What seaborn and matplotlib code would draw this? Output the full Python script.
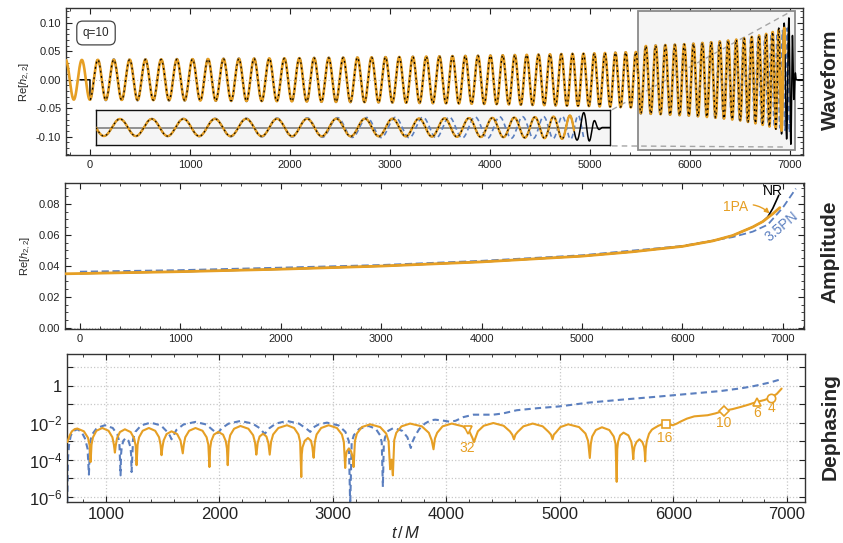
import numpy as np
import matplotlib
matplotlib.use('Agg')
import matplotlib.pyplot as plt
import seaborn as sns
from matplotlib.patches import Rectangle
from matplotlib.ticker import MultipleLocator, FixedLocator, FixedFormatter, NullLocator, FormatStrFormatter

sns.set_theme(style='ticks')
plt.rcParams['font.family'] = ['Liberation Sans', 'DejaVu Sans']
plt.rcParams['mathtext.fontset'] = 'custom'
plt.rcParams['mathtext.rm'] = 'Liberation Sans'
plt.rcParams['mathtext.it'] = 'Liberation Sans:italic'
plt.rcParams['mathtext.bf'] = 'Liberation Sans:bold'

ORANGE = '#E69F24'
BLUE = '#5B7FBF'

period_t = [-250, 0, 1000, 2000, 3000, 4000, 5000, 5500, 6000, 6400, 6700, 6850, 6950, 7000, 7030]
period_M = [162, 160, 156, 150, 138, 124, 108, 100, 92, 82, 72, 62, 50, 40, 30]

# amplitude of h22 (middle panel)
amp_t = [-250, 0, 1000, 2000, 3000, 4000, 5000, 5500, 6000, 6300, 6500, 6700, 6800, 6900, 6970]
amp_1pa = [0.0347, 0.0350, 0.0362, 0.0378, 0.0398, 0.0425, 0.0462, 0.0490, 0.0525, 0.0560, 0.0595, 0.0650,
           0.0685, 0.0735, 0.0775]
amp_nr_t = [6800, 6850, 6900, 6960, 7000, 7012, 7025, 7040, 7060]
amp_nr = [0.0685, 0.0715, 0.0770, 0.0855, 0.0925, 0.0950, 0.0650, 0.0280, 0.0030]
amp_pn_t = [0, 1000, 2000, 3000, 4000, 5000, 6000, 6500, 6700, 6850, 7000, 7130]
amp_pn = [0.0362, 0.0372, 0.0388, 0.0405, 0.0432, 0.0468, 0.0528, 0.0585, 0.0620, 0.0665, 0.0775, 0.0898]

# dephasing (bottom panel): time and log10|delta phi|
deph_1pa = [
    (660, -3.05), (680, -2.7), (700, -2.47), (725, -2.35), (748, -2.32), (806, -2.47), (842, -2.82),
    (856, -3.22), (865, -4.13),
    (873, -3.19), (886, -2.79), (916, -2.44), (968, -2.29), (1023, -2.44), (1057, -2.79), (1070, -3.19),
    (1079, -3.62),
    (1086, -3.26), (1097, -2.86), (1123, -2.51), (1167, -2.36), (1218, -2.51), (1249, -2.86), (1262, -3.26),
    (1270, -4.3),
    (1279, -3.19), (1292, -2.79), (1324, -2.44), (1378, -2.29), (1434, -2.44), (1468, -2.79), (1481, -3.19),
    (1490, -3.76),
    (1497, -3.37), (1508, -2.97), (1534, -2.62), (1578, -2.47), (1628, -2.62), (1657, -2.97), (1669, -3.37),
    (1677, -3.66),
    (1686, -3.19), (1699, -2.79), (1733, -2.44), (1789, -2.29), (1851, -2.44), (1887, -2.79), (1902, -3.19),
    (1912, -4.4),
    (1918, -3.4), (1928, -3.0), (1951, -2.65), (1990, -2.5), (2032, -2.65), (2056, -3.0), (2066, -3.4),
    (2073, -4.3),
    (2082, -3.08), (2095, -2.68), (2129, -2.33), (2185, -2.18), (2255, -2.33), (2297, -2.68), (2314, -3.08),
    (2325, -3.73),
    (2330, -3.5), (2337, -3.1), (2354, -2.75), (2384, -2.6), (2414, -2.75), (2431, -3.1), (2438, -3.5),
    (2443, -3.73),
    (2455, -3.04), (2473, -2.64), (2519, -2.29), (2595, -2.14), (2658, -2.29), (2696, -2.64), (2711, -3.04),
    (2721, -4.94),
    (2725, -3.73), (2732, -3.33), (2752, -2.98), (2780, -2.83), (2807, -2.98), (2819, -3.33), (2826, -3.73),
    (2830, -3.9),
    (2841, -3.04), (2856, -2.64), (2896, -2.29), (2962, -2.14), (3035, -2.29), (3079, -2.64), (3096, -3.04),
    (3108, -4.45),
    (3112, -3.9), (3122, -3.55), (3140, -3.4), (3160, -3.55), (3175, -3.9), (3182, -4.4),
    (3194, -2.99), (3211, -2.59), (3255, -2.24), (3328, -2.09), (3416, -2.24), (3469, -2.59), (3490, -2.99),
    (3504, -4.52), (3516, -4.0), (3528, -4.85),
    (3540, -2.95), (3558, -2.55), (3604, -2.2), (3680, -2.05), (3783, -2.2), (3845, -2.55), (3870, -2.95),
    (3886, -3.44),
    (3899, -2.85), (3918, -2.55), (3966, -2.2), (4047, -2.05), (4145, -2.2), (4204, -2.5), (4227, -2.8),
    (4243, -3.05),
    (4257, -2.8), (4277, -2.47), (4328, -2.17), (4413, -2.02), (4504, -2.17), (4559, -2.47), (4580, -2.65),
    (4595, -2.9),
    (4608, -2.65), (4628, -2.5), (4678, -2.2), (4760, -2.05), (4848, -2.2), (4900, -2.5), (4921, -2.65),
    (4935, -2.9),
    (4946, -2.65), (4963, -2.54), (5004, -2.24), (5073, -2.09), (5168, -2.24), (5225, -2.59), (5248, -2.99),
    (5263, -3.91),
    (5272, -3.15), (5284, -2.75), (5316, -2.4), (5370, -2.25), (5435, -2.4), (5474, -2.75), (5490, -3.15),
    (5500, -5.2),
    (5505, -3.44), (5512, -3.04), (5530, -2.69), (5560, -2.54), (5603, -2.69), (5629, -3.04), (5639, -3.44),
    (5646, -3.98),
    (5650, -3.6), (5657, -3.3), (5674, -3.05), (5700, -2.9), (5726, -3.05), (5741, -3.3), (5747, -3.6),
    (5751, -4.09),
    (5756, -3.4), (5765, -3.0), (5785, -2.6), (5810, -2.38), (5833, -2.29), (5870, -2.16), (5900, -2.1),
    (5936, -2.09), (5965, -2.1), (5994, -2.14), (6030, -2.05), (6067, -1.93), (6120, -1.78), (6184, -1.66),
    (6240, -1.63), (6301, -1.6), (6370, -1.5), (6447, -1.35), (6520, -1.27), (6594, -1.15), (6660, -1.03),
    (6734, -0.88), (6800, -0.78), (6857, -0.65), (6910, -0.45), (6953, -0.16),
]
deph_pn = [
    (660, -6.3), (665, -4.0), (675, -3.2), (690, -2.7), (715, -2.45), (748, -2.36), (785, -2.5), (815, -2.85),
    (838, -3.4), (850, -4.81),
    (861, -3.04), (878, -2.64), (920, -2.29), (991, -2.14), (1060, -2.29), (1101, -2.64), (1118, -3.04),
    (1129, -4.85),
    (1133, -3.73), (1139, -3.33), (1153, -2.98), (1175, -2.83), (1199, -2.98), (1216, -3.33), (1222, -3.73),
    (1226, -4.67),
    (1239, -2.9), (1259, -2.5), (1310, -2.15), (1393, -2.0), (1485, -2.15), (1540, -2.5), (1563, -2.7),
    (1578, -2.9),
    (1595, -2.7), (1620, -2.4), (1683, -2.1), (1789, -1.96), (1884, -2.1), (1941, -2.4), (1964, -2.5),
    (1979, -2.6),
    (1995, -2.5), (2020, -2.3), (2082, -2.05), (2185, -1.91), (2292, -2.05), (2355, -2.3), (2383, -2.5),
    (2399, -2.6),
    (2415, -2.5), (2440, -2.3), (2497, -2.05), (2595, -1.91), (2700, -2.05), (2760, -2.3), (2785, -2.42),
    (2800, -2.5),
    (2812, -2.4), (2830, -2.25), (2873, -2.1), (2947, -2.0), (3050, -2.15), (3110, -2.5), (3140, -3.0),
    (3152, -6.5),
    (3165, -3.08), (3184, -2.68), (3233, -2.33), (3314, -2.18), (3377, -2.33), (3415, -2.68), (3430, -3.08),
    (3440, -5.48),
    (3448, -3.19), (3459, -2.79), (3487, -2.44), (3534, -2.29), (3610, -2.44), (3656, -2.79), (3672, -3.1),
    (3686, -3.37),
    (3700, -3.05), (3725, -2.7), (3760, -2.35), (3810, -2.05), (3860, -1.88), (3900, -1.84), (3960, -1.88),
    (4030, -1.95), (4080, -1.9), (4150, -1.7), (4238, -1.57), (4413, -1.57), (4500, -1.5), (4619, -1.33),
    (4800, -1.22), (5000, -1.12), (5249, -0.92), (5541, -0.76), (5833, -0.61), (6126, -0.45), (6418, -0.29),
    (6600, -0.14), (6711, -0.02), (6850, 0.17), (6944, 0.34),
]
deph_1pa_t = [p[0] for p in deph_1pa]
deph_1pa_log = [p[1] for p in deph_1pa]
deph_pn_t = [p[0] for p in deph_pn]
deph_pn_log = [p[1] for p in deph_pn]

# cycles-before-merger markers
marker_t = [4188, 5936, 6447, 6734, 6857]
marker_labels = ['32', '16', '10', '6', '4']
marker_shapes = ['v', 's', 'D', '^', 'o']

# overview inset: frequency (cycles per unit width), 3.5PN lag (cycles), NR envelope
inset_u = [0, 0.3, 0.5, 0.65, 0.75, 0.84, 0.9, 0.94, 0.96, 0.98]
inset_freq = [16, 16.5, 18, 20, 22, 25, 30, 38, 45, 55]
inset_lag_u = [0, 0.4, 0.55, 0.7, 0.8, 0.9, 0.97]
inset_lag = [0, 0.0, 0.08, 0.2, 0.35, 0.5, 0.65]
inset_amp_u = [0, 0.6, 0.8, 0.9, 0.94, 0.955, 0.965, 0.975, 0.985]
inset_amp = [0.48, 0.5, 0.55, 0.62, 0.72, 0.92, 0.6, 0.2, 0.0]


def line(ax, x, y, **kw):
    sns.lineplot(x=x, y=y, ax=ax, estimator=None, sort=False, legend=False, **kw)


def style_axes(ax, size):
    for s in ax.spines.values():
        s.set_color('#333333')
        s.set_linewidth(1.0)
    ax.tick_params(which='both', direction='in', top=True, right=True, labelsize=size, colors='#222222')
    ax.tick_params(which='major', length=4, width=0.8)
    ax.tick_params(which='minor', length=2, width=0.6)


fig = plt.figure(figsize=(8.43, 5.43), dpi=100)
W, H = 843, 543


def px_axes(l, t, r, b):
    return fig.add_axes([l / W, 1 - b / H, (r - l) / W, (b - t) / H])


ax1 = px_axes(66, 8, 803, 155)
ax2 = px_axes(65, 183, 804, 329)
ax3 = px_axes(67, 354, 805, 502)

# ---------------- waveform ----------------
dt = 0.5
t = np.arange(-250, 7130 + dt, dt)
P = np.interp(t, period_t, period_M)
phase = 2 * np.pi * np.cumsum(1.0 / P) * dt
phase -= np.interp(-243, t, phase)

nr_t_full = amp_t[:12] + amp_nr_t
nr_a_full = amp_1pa[:12] + amp_nr
a1 = np.interp(t, amp_t, amp_1pa)
anr = np.interp(t, nr_t_full, nr_a_full, right=0.0)
apn = np.interp(t, amp_pn_t, amp_pn)
dphi = 10 ** np.interp(t, deph_pn_t, deph_pn_log)

h1 = a1 * np.cos(phase)
hnr = np.where(t < 0, 0.0, anr * np.cos(phase))
hpn = apn * np.cos(phase + dphi)

box_t0, box_t1 = 5480, 7050
box_y0, box_y1 = -0.123, 0.1205
zoom = 1.2

ax1.add_patch(Rectangle((box_t0, box_y0), box_t1 - box_t0, box_y1 - box_y0, fc='#f5f5f5', ec='#8a8a8a',
                        lw=1.3, zorder=1))
ax1.axhline(0, color='#bbbbbb', ls=':', lw=0.8, zorder=0)

m_pn = (t >= 0) & (t <= 7000)
m_nr = t >= -100
m_1 = t <= 6950
m_dash = (t >= 0) & (t <= 6900)
for lo, hi, s in [(-1e9, box_t0, 1.0), (box_t0, 1e9, zoom)]:
    seg = (t >= lo) & (t < hi)
    mm = seg & m_pn
    line(ax1, t[mm], hpn[mm] * s, color=BLUE, lw=1.3, linestyle=(0, (3, 2)), zorder=2)
    mm = seg & m_nr
    line(ax1, t[mm], hnr[mm] * s, color='black', lw=1.1, zorder=3)
    mm = seg & m_1
    line(ax1, t[mm], h1[mm] * s, color=ORANGE, lw=1.9, zorder=4)
    mm = seg & m_dash
    line(ax1, t[mm], hnr[mm] * s, color='black', lw=0.9, linestyle=(0, (1.6, 2.6)), zorder=5)

# connector lines between the overview inset and the zoom box
ax1.plot([5220, 6980], [-0.0526, 0.117], color='#a5a5a5', lw=1.0, ls=(0, (4, 3)), zorder=2.5)
ax1.plot([5220, 6970], [-0.116, -0.118], color='#a5a5a5', lw=1.0, ls=(0, (4, 3)), zorder=2.5)

ax1.set_xlim(-240, 7130)
ax1.set_ylim(-0.132, 0.126)
ax1.xaxis.set_major_locator(MultipleLocator(1000))
ax1.xaxis.set_minor_locator(MultipleLocator(200))
ax1.yaxis.set_minor_locator(MultipleLocator(0.01))
ax1.set_yticks([-0.10, -0.05, 0.0, 0.05, 0.10])
ax1.set_yticklabels(['-0.10', '-0.05', '0.00', '0.05', '0.10'])
ax1.set_ylabel(r'Re[$h_{2,2}$]', fontsize=8, labelpad=3)
style_axes(ax1, 8)

# overview inset
axi = ax1.inset_axes([60, -0.1149, 5140, 0.0623], transform=ax1.transData)
axi.set_facecolor('#f5f5f5')
for s in axi.spines.values():
    s.set_color('#111111')
    s.set_linewidth(1.0)
axi.set_xticks([])
axi.set_yticks([])
u = np.linspace(0, 1, 4000)
fu = np.interp(u, inset_u, inset_freq)
ph_u = 2 * np.pi * np.cumsum(fu) * (u[1] - u[0]) + np.pi / 2
au = np.interp(u, inset_amp_u, inset_amp)
lag = 2 * np.pi * np.interp(u, inset_lag_u, inset_lag)
axi.axhline(0, color='#808080', lw=1.2, zorder=1)
mu = u <= 0.95
line(axi, u[mu], np.interp(u[mu], [0, 0.9, 0.95], [0.48, 0.62, 0.7]) * np.cos(ph_u[mu] - lag[mu]),
     color=BLUE, lw=1.2, linestyle=(0, (3, 2)), zorder=2)
line(axi, u, au * np.cos(ph_u), color='black', lw=1.1, zorder=3)
mu = u <= 0.93
line(axi, u[mu], au[mu] * np.cos(ph_u[mu]), color=ORANGE, lw=1.7, zorder=4)
mu = u <= 0.91
line(axi, u[mu], au[mu] * np.cos(ph_u[mu]), color='black', lw=0.8, linestyle=(0, (1.6, 2.6)), zorder=5)
axi.set_xlim(0, 1)
axi.set_ylim(-1, 1)

fig.text(96 / W, 1 - 33 / H, 'q=10', fontsize=8.5, ha='center', va='center',
         bbox=dict(boxstyle='round,pad=0.5', fc='white', ec='#444444', lw=0.9))

# ---------------- amplitude ----------------
ax2.axhline(0, color='#bbbbbb', ls=':', lw=0.8, zorder=0)
line(ax2, amp_pn_t, amp_pn, color=BLUE, lw=1.3, linestyle=(0, (4, 2)), zorder=2)
nr_mid = [(a, b) for a, b in zip(nr_t_full, nr_a_full) if 0 <= a <= 6960]
line(ax2, [p[0] for p in nr_mid], [p[1] for p in nr_mid], color='black', lw=1.2, zorder=3)
line(ax2, amp_t, amp_1pa, color=ORANGE, lw=2.0, zorder=4)
ax2.set_xlim(-149, 7211)
ax2.set_ylim(-0.0008, 0.0934)
ax2.xaxis.set_major_locator(MultipleLocator(1000))
ax2.xaxis.set_minor_locator(MultipleLocator(200))
ax2.yaxis.set_major_locator(MultipleLocator(0.02))
ax2.yaxis.set_minor_locator(MultipleLocator(0.005))
ax2.yaxis.set_major_formatter(FormatStrFormatter('%.2f'))
ax2.set_ylabel(r'Re[$h_{2,2}$]', fontsize=8, labelpad=4)
style_axes(ax2, 8)
ax2.text(6905, 0.0885, 'NR', color='black', fontsize=10, ha='center', va='center')
ax2.annotate('1PA', xy=(6868, 0.0738), xytext=(6534, 0.0781), color=ORANGE, fontsize=10,
             ha='center', va='center',
             arrowprops=dict(arrowstyle='-|>', color=ORANGE, lw=1.0, mutation_scale=7,
                             connectionstyle='arc3,rad=-0.3', shrinkA=1, shrinkB=0))
ax2.text(6992, 0.0652, '3.5PN', color=BLUE, fontsize=10, ha='center', va='center', rotation=40)

# ---------------- dephasing ----------------
ax3.set_yscale('log')
ax3.grid(True, which='major', color='#c8c8c8', ls=':', lw=0.9)
line(ax3, deph_pn_t, 10 ** np.array(deph_pn_log), color=BLUE, lw=1.5, linestyle=(0, (3, 2)), zorder=2)
line(ax3, deph_1pa_t, 10 ** np.array(deph_1pa_log), color=ORANGE, lw=1.5, zorder=3)
marker_y = 10 ** np.interp(marker_t, deph_1pa_t, deph_1pa_log)
label_off = [(-7, -0.95), (-13, -0.72), (-3, -0.65), (4, -0.62), (4, -0.55)]
for mt, my, lab, shp, (dx, dl) in zip(marker_t, marker_y, marker_labels, marker_shapes, label_off):
    ax3.plot([mt], [my], marker=shp, ms=6 if shp != 'D' else 5, mfc='white', mec=ORANGE, mew=1.2,
             ls='none', zorder=5)
    ax3.text(mt + dx, my * 10 ** dl, lab, color=ORANGE, fontsize=10, ha='center', va='center')
ax3.set_xlim(657, 7159)
ax3.set_ylim(10 ** -6.29, 10 ** 1.71)
ax3.xaxis.set_major_locator(MultipleLocator(1000))
ax3.xaxis.set_minor_locator(MultipleLocator(200))
dec = [1e-6, 1e-5, 1e-4, 1e-3, 1e-2, 1e-1, 1, 10]
ax3.yaxis.set_major_locator(FixedLocator(dec))
ax3.yaxis.set_major_formatter(FixedFormatter(['$10^{-6}$', '', '$10^{-4}$', '', '$10^{-2}$', '', '1', '']))
ax3.yaxis.set_minor_locator(NullLocator())
style_axes(ax3, 12)
fig.text(406 / W, 1 - 533 / H, r'$t\,/\,M$', fontsize=12, ha='center', va='center')

for y, name in [(80, 'Waveform'), (252, 'Amplitude'), (427, 'Dephasing')]:
    fig.text(830 / W, 1 - y / H, name, rotation=90, fontsize=15, fontweight='bold', ha='center', va='center')

fig.savefig('out.png', dpi=100)
